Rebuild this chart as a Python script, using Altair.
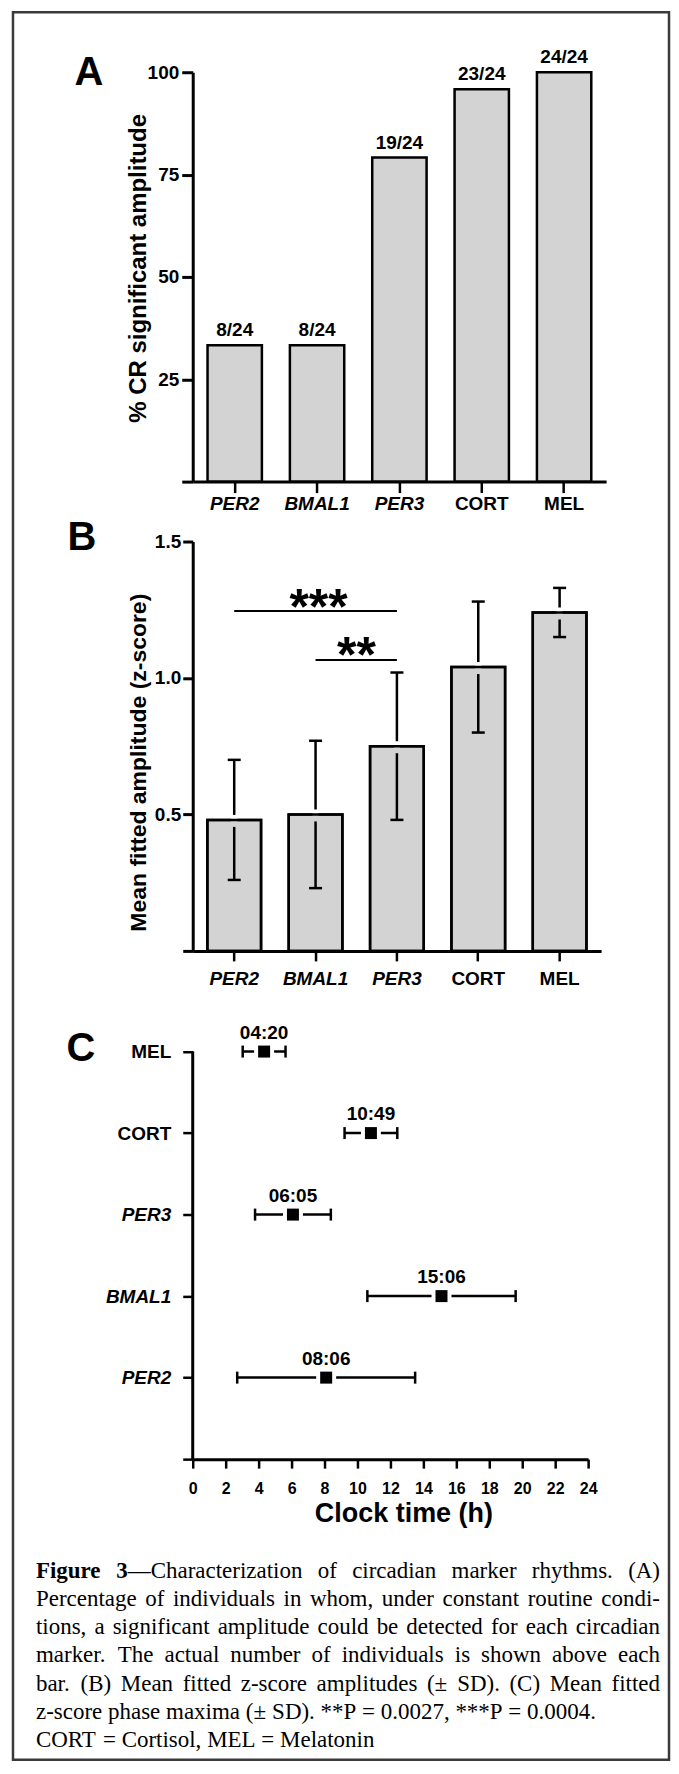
import altair as alt
import pandas as pd

# ---------------- data ----------------
markers = ["PER2", "BMAL1", "PER3", "CORT", "MEL"]
n_significant = [8, 8, 19, 23, 24]
n_total = 24
amp_mean = [0.48, 0.50, 0.75, 1.04, 1.24]
amp_sd = [0.22, 0.27, 0.27, 0.24, 0.09]
phase_labels = ["08:06", "15:06", "06:05", "10:49", "04:20"]
phase_sd = [5.4, 4.5, 2.3, 1.6, 1.3]
sig_from = ["PER2", "BMAL1"]
sig_to = ["PER3", "PER3"]
sig_height = [1.245, 1.066]
sig_stars = ["***", "**"]
pct_ticks = [0, 25, 50, 75, 100]
amp_ticks = [0, 0.5, 1.0, 1.5]
clock_ticks = list(range(0, 25, 2))
caption_bold = "Figure 3"
caption_lines = [
    "Figure 3—Characterization of circadian marker rhythms. (A)",
    "Percentage of individuals in whom, under constant routine condi-",
    "tions, a significant amplitude could be detected for each circadian",
    "marker. The actual number of individuals is shown above each",
    "bar. (B) Mean fitted z-score amplitudes (± SD). (C) Mean fitted",
    "z-score phase maxima (± SD). **P = 0.0027, ***P = 0.0004.",
    "CORT = Cortisol, MEL = Melatonin",
]
n_justified = 5

FONT = "Liberation Sans"
SERIF = "Liberation Serif"
GRAY = "#d3d3d3"

one = pd.DataFrame({"t": [0]})

italic_x = {
    "condition": {"test": "datum.value == 'CORT' || datum.value == 'MEL'", "value": "normal"},
    "value": "italic",
}


def letter(ch, x, y):
    return alt.Chart(pd.DataFrame({"t": [ch]})).mark_text(
        fontSize=40, fontWeight="bold", align="center", baseline="alphabetic", font=FONT
    ).encode(x=alt.value(x), y=alt.value(y), text="t:N")


band_scale = alt.Scale(domain=markers, paddingInner=0.34, paddingOuter=0.18)


def x_axis(tick, pad):
    return alt.Axis(title=None, labelAngle=0, labelFontSize=19, labelFontWeight="bold",
                    labelFontStyle=italic_x, tickSize=tick, tickWidth=2.5, domainWidth=3,
                    labelPadding=pad)


# ---------------- panel A ----------------
dfA = pd.DataFrame({"marker": markers, "n": n_significant})
dfA["pct"] = dfA["n"] / n_total * 100
dfA["label"] = [f"{n}/{n_total}" for n in n_significant]

axA_x = x_axis(11, 2)
scA_y = alt.Scale(domain=[0, 100], nice=False)
axA_y = alt.Axis(values=pct_ticks, labelExpr="datum.value == 0 ? '' : datum.label",
                 title="% CR significant amplitude", titleFontSize=24, titleFontWeight="bold",
                 titleAngle=270, titleAlign="center", titleBaseline="alphabetic",
                 titleX=-47, titleY=196, labelFontSize=19, labelFontWeight="bold",
                 labelPadding=3, tickSize=11, tickWidth=3, domainWidth=3)
xA = alt.X("marker:N", scale=band_scale, axis=axA_x)
yA = alt.Y("pct:Q", scale=scA_y, axis=axA_y)

barsA = alt.Chart(dfA).mark_bar(fill=GRAY, stroke="black", strokeWidth=2.5).encode(x=xA, y=yA)
textA = alt.Chart(dfA).mark_text(fontSize=19, fontWeight="bold", baseline="alphabetic", dy=-9).encode(
    x=xA, y=yA, text="label:N")
border = alt.Chart(one).mark_rect(filled=False, stroke="#3a3a3a", strokeWidth=2.5).encode(
    x=alt.value(-180), x2=alt.value(477), y=alt.value(-60), y2=alt.value(1690))
chartA = alt.layer(barsA, textA, letter("A", -104, 13), border).properties(width=414, height=410)

# ---------------- panel B ----------------
dfB = pd.DataFrame({"marker": markers, "mean": amp_mean, "sd": amp_sd})
dfB["lo"] = dfB["mean"] - dfB["sd"]
dfB["hi"] = dfB["mean"] + dfB["sd"]

axB_x = x_axis(10, 9)
scB_y = alt.Scale(domain=[0, 1.5], nice=False)
axB_y = alt.Axis(values=amp_ticks, format=".1f", labelExpr="datum.value == 0 ? '' : datum.label",
                 title="Mean fitted amplitude (z-score)", titleFontSize=23, titleFontWeight="bold",
                 titleAngle=270, titleAlign="center", titleBaseline="alphabetic",
                 titleX=-47, titleY=221, labelFontSize=19, labelFontWeight="bold",
                 labelPadding=2, tickSize=10, tickWidth=3, domainWidth=3)
xB = alt.X("marker:N", scale=band_scale, axis=axB_x)


def yB(field):
    return alt.Y(field, scale=scB_y, axis=axB_y)


baseB = alt.Chart(dfB)
barsB = baseB.mark_bar(fill=GRAY, stroke="black", strokeWidth=2.5).encode(x=xB, y=yB("mean:Q"))
errB = baseB.mark_rule(color="black", strokeWidth=2.5).encode(x=xB, y=yB("lo:Q"), y2="hi:Q")
capLo = baseB.mark_tick(orient="horizontal", size=13, thickness=2.5, color="black", opacity=1).encode(
    x=xB, y=yB("lo:Q"))
capHi = baseB.mark_tick(orient="horizontal", size=13, thickness=2.5, color="black", opacity=1).encode(
    x=xB, y=yB("hi:Q"))
gapW = baseB.mark_tick(orient="horizontal", size=6, thickness=5, color="white", opacity=1, yOffset=-2.5).encode(
    x=xB, y=yB("mean:Q"))
gapG = baseB.mark_tick(orient="horizontal", size=6, thickness=7, color=GRAY, opacity=1, yOffset=3.5).encode(
    x=xB, y=yB("mean:Q"))
outlineB = baseB.mark_bar(filled=False, stroke="black", strokeWidth=2.5).encode(x=xB, y=yB("mean:Q"))

dfS = pd.DataFrame({"a": sig_from, "b": sig_to, "y": sig_height, "t": sig_stars})
sigRule = alt.Chart(dfS).mark_rule(color="black", strokeWidth=2).encode(
    x=alt.X("a:N", scale=band_scale, axis=axB_x), x2="b:N", y=yB("y:Q"))
star3 = alt.Chart(dfS.iloc[[0]]).mark_text(fontSize=50, fontWeight="bold", baseline="alphabetic", dx=3, dy=13).encode(
    x=alt.X(datum="BMAL1", type="nominal", scale=band_scale, axis=axB_x), y=yB("y:Q"), text="t:N")
star2 = alt.Chart(dfS.iloc[[1]]).mark_text(fontSize=50, fontWeight="bold", baseline="alphabetic", dx=41, dy=12).encode(
    x=alt.X(datum="BMAL1", type="nominal", scale=band_scale, axis=axB_x), y=yB("y:Q"), text="t:N")

chartB = alt.layer(barsB, errB, capLo, capHi, gapW, gapG, outlineB, sigRule, star3, star2,
                   letter("B", -111, 8)).properties(width=409, height=410)

# ---------------- panel C ----------------
def to_hours(s):
    h, m = s.split(":")
    return int(h) + int(m) / 60


dfC = pd.DataFrame({
    "marker": markers,
    "row": list(range(1, len(markers) + 1)),
    "phase": [to_hours(s) for s in phase_labels],
    "sd": phase_sd,
    "label": phase_labels,
})
dfC["lo"] = dfC["phase"] - dfC["sd"]
dfC["hi"] = dfC["phase"] + dfC["sd"]

row_expr = "[" + ",".join(["''"] + [f"'{m}'" for m in markers]) + "][datum.value]"
italic_y = {"condition": {"test": "datum.value <= 3", "value": "italic"}, "value": "normal"}

scC_x = alt.Scale(domain=[0, 24], nice=False)
axC_x = alt.Axis(values=clock_ticks, title="Clock time (h)", titleFontSize=27, titleFontWeight="bold",
                 titleX=211, titleY=62, titleBaseline="alphabetic", titleAlign="center",
                 labelFontSize=16, labelFontWeight="bold", labelPadding=12, labelFlush=False,
                 labelOverlap=False, tickSize=9, tickWidth=2.5, domainWidth=3)
scC_y = alt.Scale(domain=[0, 5.5], nice=False)
axC_y = alt.Axis(values=[0, 1, 2, 3, 4, 5], labelExpr=row_expr, domain=False, title=None,
                 labelFontSize=19, labelFontWeight="bold", labelFontStyle=italic_y,
                 labelPadding=12, tickSize=10, tickWidth=2.5)


def xC(field):
    return alt.X(field, scale=scC_x, axis=axC_x)


def yC(field):
    return alt.Y(field, scale=scC_y, axis=axC_y)


baseC = alt.Chart(dfC)
yaxisLine = alt.Chart(one).mark_rule(color="black", strokeWidth=3).encode(
    x=alt.X(datum=0, type="quantitative", scale=scC_x, axis=axC_x),
    y=alt.Y(datum=0, type="quantitative", scale=scC_y, axis=axC_y),
    y2=alt.Y2(datum=5))
errC = baseC.mark_rule(color="black", strokeWidth=2.5).encode(x=xC("lo:Q"), x2="hi:Q", y=yC("row:Q"))
capL = baseC.mark_tick(orient="vertical", size=12, thickness=2.5, color="black", opacity=1).encode(
    x=xC("lo:Q"), y=yC("row:Q"))
capH = baseC.mark_tick(orient="vertical", size=12, thickness=2.5, color="black", opacity=1).encode(
    x=xC("hi:Q"), y=yC("row:Q"))
sqW = baseC.mark_square(size=400, color="white", opacity=1).encode(x=xC("phase:Q"), y=yC("row:Q"))
sqB = baseC.mark_square(size=144, color="black", opacity=1).encode(x=xC("phase:Q"), y=yC("row:Q"))
labC = baseC.mark_text(fontSize=19, fontWeight="bold", baseline="alphabetic", dy=-13).encode(
    x=xC("phase:Q"), y=yC("row:Q"), text="label:N")

chartC = alt.layer(errC, capL, capH, sqW, sqB, yaxisLine, labC, letter("C", -112, 50)
                   ).properties(width=396, height=449)

# ---------------- caption (justified like the printed figure) ----------------
TIMES_R = {" ": 250, "(": 333, ")": 333, "*": 500, ",": 250, "-": 333, ".": 250, ":": 278,
           "=": 564, "±": 564, "—": 1000,
           "A": 722, "B": 667, "C": 667, "D": 722, "E": 611, "F": 556, "G": 722, "H": 722,
           "I": 333, "J": 389, "K": 722, "L": 611, "M": 889, "N": 722, "O": 722, "P": 556,
           "Q": 722, "R": 667, "S": 556, "T": 611, "U": 722, "V": 722, "W": 944, "X": 722,
           "Y": 722, "Z": 611,
           "a": 444, "b": 500, "c": 444, "d": 500, "e": 444, "f": 333, "g": 500, "h": 500,
           "i": 278, "j": 278, "k": 500, "l": 278, "m": 778, "n": 500, "o": 500, "p": 500,
           "q": 500, "r": 333, "s": 389, "t": 278, "u": 500, "v": 500, "w": 722, "x": 500,
           "y": 500, "z": 444}
TIMES_B = {"F": 611, "i": 278, "g": 500, "u": 556, "r": 444, "e": 444, "3": 500, " ": 250}
CAP_FS = 23
CAP_X0 = -157      # left edge of the text block, relative to the plot's left edge
CAP_W = 625        # width of the justified block
CAP_Y0 = 59
CAP_DY = 28.2


def tw(s, bold):
    table = TIMES_B if bold else TIMES_R
    return sum(table.get(c, 500) for c in s) * CAP_FS / 1000


cap_rows = []
for li, line in enumerate(caption_lines):
    bold_n = len(caption_bold) if li == 0 else 0
    words, pos = [], 0
    for w in line.split(" "):
        start = pos
        pos += len(w) + 1
        nb = max(0, min(len(w), bold_n - start))
        segs = []
        if nb > 0:
            segs.append((w[:nb], True))
        if nb < len(w):
            segs.append((w[nb:], False))
        words.append(segs)
    widths = [sum(tw(t, b) for t, b in segs) for segs in words]
    if li < n_justified and len(words) > 1:
        gap = (CAP_W - sum(widths)) / (len(words) - 1)
    else:
        gap = tw(" ", False)
    x = CAP_X0
    for segs, wd in zip(words, widths):
        xx = x
        for t, b in segs:
            cap_rows.append({"t": t, "bold": b, "px": xx, "py": CAP_Y0 + li * CAP_DY})
            xx += tw(t, b)
        x += wd + gap
dfCap = pd.DataFrame(cap_rows)

capBase = alt.Chart(dfCap).encode(
    x=alt.X("px:Q", scale=None, axis=None), y=alt.Y("py:Q", scale=None, axis=None), text="t:N")
capBold = capBase.transform_filter("datum.bold").mark_text(
    font=SERIF, fontSize=CAP_FS, fontWeight="bold", align="left", baseline="alphabetic")
capReg = capBase.transform_filter("!datum.bold").mark_text(
    font=SERIF, fontSize=CAP_FS, fontWeight="normal", align="left", baseline="alphabetic")
chartCap = alt.layer(capBold, capReg).properties(width=396, height=200)

chart = alt.vconcat(chartA, chartB, chartC, chartCap, spacing=60, bounds="flush").properties(
    padding={"left": 3, "top": 1, "right": 0, "bottom": 0}
).configure_view(strokeWidth=0).configure_axis(
    grid=False, domainColor="black", tickColor="black", labelColor="black", titleColor="black",
    labelFont=FONT, titleFont=FONT
).configure_text(font=FONT, color="black")

chart.save("out.html", embed_options={"renderer": "svg", "actions": False})
